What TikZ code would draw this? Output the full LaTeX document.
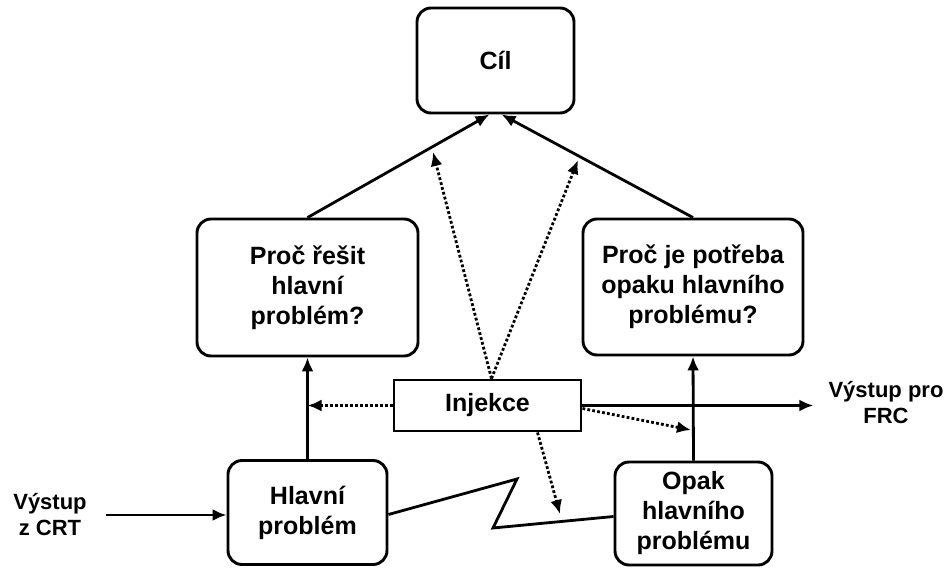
\documentclass[tikz,border=0pt]{standalone}
\usepackage{fontspec}
\setmainfont{Liberation Sans}
\usetikzlibrary{arrows.meta,calc}
\begin{document}
\begin{tikzpicture}[x=1pt,y=-1pt,
  boxtext/.style={align=center, inner sep=0pt, font=\fontsize{25}{30}\selectfont\bfseries},
  box/.style={boxtext, draw, line width=2.9pt, rounded corners=14pt},
  flatbox/.style={boxtext, draw, line width=2.9pt},
  side/.style={align=center, inner sep=0pt, font=\fontsize{22}{26}\selectfont\bfseries},
  link/.style={line width=2.8pt, -{Latex[length=14pt,width=12pt]}},
  hint/.style={line width=2.8pt, dash pattern=on 2.8pt off 2.2pt, -{Latex[length=14pt,width=12pt]}},
  bolt/.style={line width=2.8pt, line join=miter},
]
\useasboundingbox (0,0) rectangle (949,567);

% boxes
\node[box, minimum width=157pt, minimum height=105pt] (cil) at (495.5,60.5) {Cíl};
\node[box, minimum width=221pt, minimum height=137pt] (pr) at (307.5,287.5) {Proč řešit\\hlavní\\problém?};
\node[box, minimum width=220pt, minimum height=136pt] (pp) at (693,287) {Proč je potřeba\\opaku hlavního\\problému?};
\node[flatbox, minimum width=187pt, minimum height=51pt] (inj) at (487.5,405.5) {Injekce};
\node[box, minimum width=159pt, minimum height=104pt] (hl) at (307.5,512.5) {Hlavní\\problém};
\node[box, minimum width=157pt, minimum height=103pt] (op) at (693.5,513.5) {Opak\\hlavního\\problému};

% outer labels
\node[side] (crt) at (50,515) {Výstup\\z CRT};
\node[side] (frc) at (886,403) {Výstup pro\\FRC};

% free ends of the dotted arrows and bends of the zigzag
\coordinate (tl) at (433,152);
\coordinate (tr) at (578,160);
\coordinate (tb) at (560,514);
\coordinate (trr) at (691,430);
\coordinate (z1) at (517,479);
\coordinate (z2) at (493,528);

% main logic
\draw[link] (pr.north) -- ([xshift=-6pt]cil.south);
\draw[link] (pp.north) -- ([xshift=6pt]cil.south);
\draw[link] (hl.north) -- (pr.south);
\draw[link] (op.north) -- (pp.south);
\draw[link, shorten <=19pt] (crt.east) -- (crt.east -| hl.west);
\draw[link, line width=3.8pt, shorten >=15pt] (inj.east) -- (inj.east -| frc.west);

% conflict between the two sides
\draw[bolt] ([yshift=-2pt]hl.east) -- (z1) -- (z2) -- ([yshift=-3pt]op.west);

% injection effects
\draw[hint] ([xshift=4pt]inj.north) -- (tl);
\draw[hint] ([xshift=4pt]inj.north) -- (tr);
\draw[hint] (inj.west) -- (inj.west -| pr.south);
\draw[hint] ([yshift=-3pt]inj.east) -- (trr);
\draw[hint] ([xshift=50pt]inj.south) -- (tb);
\end{tikzpicture}
\end{document}
